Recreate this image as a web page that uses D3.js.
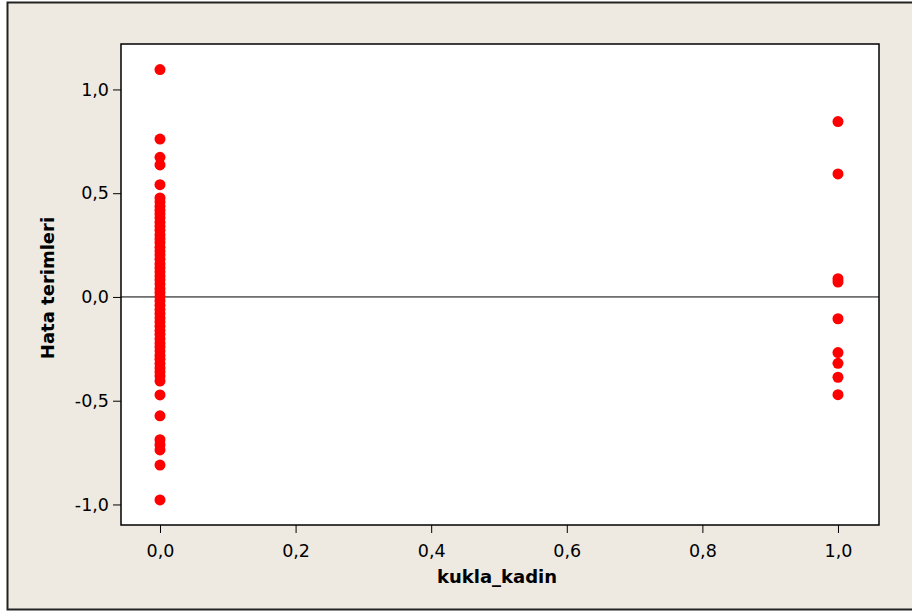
<!DOCTYPE html>
<html>
<head>
<meta charset="utf-8">
<script src="https://d3js.org/d3.v7.min.js"></script>
<style>
  body { margin: 0; background: #fff; }
  text { font-family: "DejaVu Sans", Verdana, sans-serif; }
</style>
</head>
<body>
<div id="chart"></div>
<script>
var width = 912,
    height = 614;

// residuals where kukla_kadin = 0
var resid0 = [1.096, 0.761, 0.673, 0.636, 0.541,
    0.477, 0.458, 0.437, 0.418, 0.401, 0.382, 0.360, 0.341, 0.322, 0.300,
    0.281, 0.262, 0.240, 0.221, 0.203, 0.182, 0.160, 0.141, 0.122, 0.101,
    0.083, 0.062, 0.040, 0.021, 0.002, -0.018, -0.040, -0.061, -0.080, -0.101,
    -0.120, -0.141, -0.162, -0.180, -0.201, -0.222, -0.240, -0.261, -0.282,
    -0.300, -0.321, -0.342, -0.360, -0.381, -0.405,
    -0.472, -0.573, -0.688, -0.712, -0.737, -0.810, -0.978];
// residuals where kukla_kadin = 1
var resid1 = [0.845, 0.593, 0.088, 0.072, -0.105, -0.268, -0.320, -0.387, -0.471];

var xTicks = [0, 0.2, 0.4, 0.6, 0.8, 1.0];
var yTicks = [-1.0, -0.5, 0.0, 0.5, 1.0];

var points = resid0.map(function(v) { return {x: 0, y: v}; })
    .concat(resid1.map(function(v) { return {x: 1, y: v}; }));

var plot = {left: 121, top: 44, right: 879, bottom: 525};

var fmt = function(d) { return d3.format('.1f')(d).replace('.', ',').replace('\u2212', '-'); };

var svg = d3.select('#chart').append('svg')
    .attr('width', width)
    .attr('height', height);

// outer frame
svg.append('rect')
    .attr('x', 7.5).attr('y', 2.5)
    .attr('width', 912).attr('height', 607)
    .attr('fill', '#eeeae1')
    .attr('stroke', '#222')
    .attr('stroke-width', 2);

var x = d3.scaleLinear().domain([-0.0575, 1.0605]).range([plot.left, plot.right]);
var y = d3.scaleLinear().domain([-1.099, 1.219]).range([plot.bottom, plot.top]);

svg.append('rect')
    .attr('x', plot.left).attr('y', plot.top)
    .attr('width', plot.right - plot.left)
    .attr('height', plot.bottom - plot.top)
    .attr('fill', '#fff')
    .attr('stroke', '#000')
    .attr('stroke-width', 1.5);

var xAxis = svg.append('g')
    .attr('transform', 'translate(0,' + plot.bottom + ')')
    .call(d3.axisBottom(x).tickValues(xTicks).tickFormat(fmt).tickSize(8).tickSizeOuter(0));
var yAxis = svg.append('g')
    .attr('transform', 'translate(' + plot.left + ',0)')
    .call(d3.axisLeft(y).tickValues(yTicks).tickFormat(fmt).tickSize(8).tickSizeOuter(0));

[xAxis, yAxis].forEach(function(a) {
    a.select('.domain').remove();
    a.selectAll('line').attr('stroke', '#000');
    a.selectAll('text')
        .attr('fill', '#000')
        .style('font-size', '17.5px')
        .style('font-family', '"DejaVu Sans", Verdana, sans-serif');
});
xAxis.selectAll('text').attr('dy', '1.2em');
yAxis.selectAll('text').attr('x', -12);

// zero reference line
svg.append('line')
    .attr('x1', plot.left).attr('x2', plot.right)
    .attr('y1', y(0)).attr('y2', y(0))
    .attr('stroke', '#000')
    .attr('stroke-width', 1);

svg.append('g').selectAll('circle')
    .data(points)
  .enter().append('circle')
    .attr('cx', function(d) { return x(d.x); })
    .attr('cy', function(d) { return y(d.y); })
    .attr('r', 5.5)
    .attr('fill', '#ff0000');

svg.append('text')
    .attr('x', 497).attr('y', 583)
    .attr('text-anchor', 'middle')
    .style('font-size', '18px')
    .style('font-weight', 'bold')
    .text('kukla_kadin');

svg.append('text')
    .attr('transform', 'translate(54,288) rotate(-90)')
    .attr('text-anchor', 'middle')
    .style('font-size', '18px')
    .style('font-weight', 'bold')
    .text('Hata terimleri');
</script>
</body>
</html>
